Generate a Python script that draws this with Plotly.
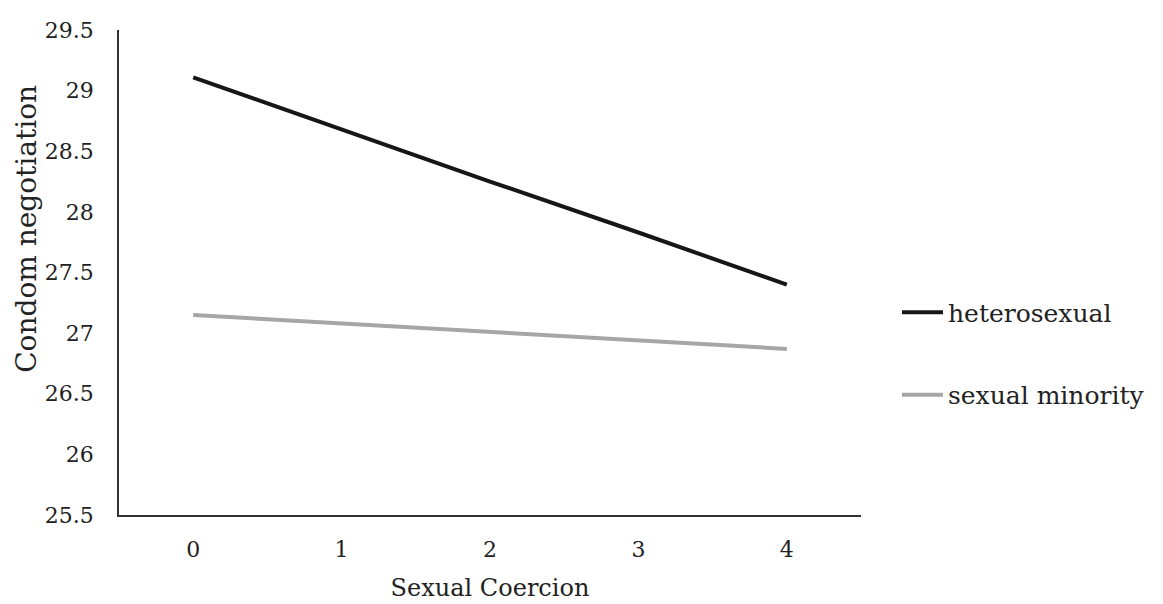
import plotly.graph_objects as go

categories = ["0", "1", "2", "3", "4"]
heterosexual = [29.11, 28.68, 28.25, 27.83, 27.40]
sexual_minority = [27.15, 27.08, 27.01, 26.94, 26.87]
y_ticks = [25.5, 26, 26.5, 27, 27.5, 28, 28.5, 29, 29.5]
y_tick_labels = ["25.5", "26", "26.5", "27", "27.5", "28", "28.5", "29", "29.5"]

FONT = "DejaVu Serif"
TXT = "#222222"

fig = go.Figure()
fig.add_trace(go.Scatter(x=categories, y=heterosexual, mode="lines", name="heterosexual",
                         legendgroup="a", line=dict(color="#161616", width=4)))
fig.add_trace(go.Scatter(x=categories, y=sexual_minority, mode="lines", name="sexual minority",
                         legendgroup="b", line=dict(color="#a6a6a6", width=4)))

fig.update_layout(
    width=1155, height=596,
    margin=dict(l=111, r=302, t=22, b=89, autoexpand=False),
    paper_bgcolor="white", plot_bgcolor="white",
    font=dict(family=FONT, color=TXT),
    showlegend=True,
    legend=dict(x=1.0485, y=0.333, xanchor="left", yanchor="middle",
                font=dict(size=25, family=FONT, color=TXT),
                tracegroupgap=47, bgcolor="rgba(0,0,0,0)", itemwidth=41),
    xaxis=dict(type="category", range=[-0.5, 4.5], showgrid=False, zeroline=False,
               showline=True, linecolor="#333333", linewidth=1.5, ticks="",
               tickfont=dict(size=22, family=FONT, color=TXT),
               ticklabelstandoff=14, automargin=False,
               title=dict(text="Sexual Coercion", font=dict(size=24, family=FONT, color=TXT),
                          standoff=18)),
    yaxis=dict(range=[25.5, 29.5], tickvals=y_ticks, ticktext=y_tick_labels,
               showgrid=False, zeroline=False, automargin=False,
               showline=True, linecolor="#333333", linewidth=1.5, ticks="",
               tickfont=dict(size=22, family=FONT, color=TXT),
               ticklabelstandoff=19),
    annotations=[dict(text="Condom negotiation", textangle=-90, xref="paper", yref="paper",
                      x=-0.124, y=0.590, xanchor="center", yanchor="middle", showarrow=False,
                      font=dict(size=28, family=FONT, color=TXT))],
)

fig.write_html("out.html")
